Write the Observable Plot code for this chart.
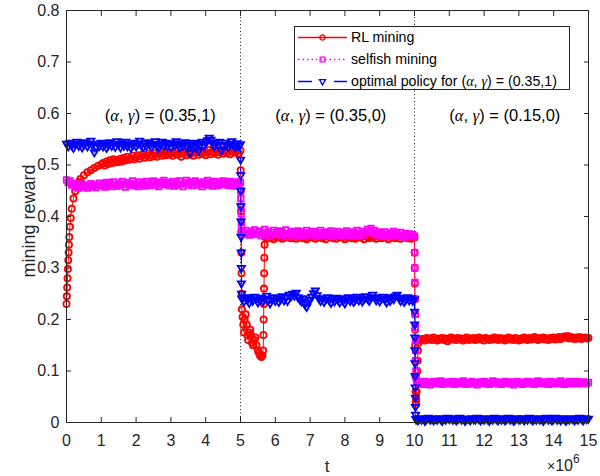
<!DOCTYPE html>
<html><head><meta charset="utf-8">
<script src="https://cdn.jsdelivr.net/npm/d3@7"></script>
<script src="https://cdn.jsdelivr.net/npm/@observablehq/plot@0.6"></script>
<style>body{margin:0;background:#fff}</style>
</head><body><div id="chart"></div>
<script>
// ---------- data (t in units of 10^6) ----------
const xTicks = [0,1,2,3,4,5,6,7,8,9,10,11,12,13,14,15];
const yTicks = [0,0.1,0.2,0.3,0.4,0.5,0.6,0.7,0.8];
const phaseBreaks = [5, 10];
const annotX = [1.1, 6.0, 11.0];
const annotY = [0.596, 0.596, 0.596];
const annotLabels = ["(α, γ) = (0.35,1)", "(α, γ) = (0.35,0)", "(α, γ) = (0.15,0)"];
const seriesNames = ["RL mining", "selfish mining", "optimal policy for (α, γ) = (0.35,1)"];

// RL mining
const redRiseT = [0,0.01,0.02,0.03,0.04,0.05,0.06,0.07,0.08,0.1,0.12,0.15,0.2,0.25,0.3,0.35,0.4,0.5,0.6,0.7,0.8,0.9,1.0];
const redRiseV = [0.23,0.245,0.262,0.28,0.298,0.315,0.33,0.345,0.36,0.38,0.397,0.415,0.435,0.449,0.46,0.467,0.473,0.48,0.486,0.49,0.494,0.498,0.501];
const redA = [ // t = 1.05 .. 5.0, step 0.05
0.504,0.499,0.507,0.502,0.509,0.504,0.511,0.505,0.509,0.506,
0.512,0.507,0.514,0.509,0.516,0.51,0.513,0.518,0.511,0.515,
0.519,0.512,0.517,0.521,0.514,0.518,0.522,0.515,0.52,0.517,
0.523,0.516,0.521,0.525,0.518,0.522,0.519,0.526,0.52,0.524,
0.518,0.523,0.527,0.52,0.524,0.516,0.522,0.526,0.519,0.525,
0.521,0.527,0.518,0.524,0.528,0.52,0.525,0.522,0.527,0.519,
0.524,0.529,0.521,0.526,0.523,0.528,0.52,0.525,0.529,0.522,
0.527,0.523,0.529,0.521,0.526,0.53,0.524,0.527,0.522,0.528];
const redDropT = [5.005,5.01,5.015,5.02,5.025,5.03,5.035,5.04,5.06,5.08,5.1,5.12,5.15,5.18,5.2,5.22,5.25,5.28,5.3,5.33,5.36,5.4,5.43,5.46,5.5,5.53,5.56,5.6,5.63,5.65,5.66,5.665,5.67,5.675,5.68,5.685,5.69,5.7];
const redDropV = [0.49,0.45,0.41,0.37,0.33,0.29,0.25,0.22,0.205,0.19,0.175,0.2,0.21,0.19,0.17,0.16,0.175,0.18,0.17,0.155,0.15,0.16,0.165,0.15,0.14,0.135,0.13,0.127,0.13,0.14,0.17,0.2,0.23,0.26,0.29,0.32,0.345,0.36];
const redB = [ // t = 5.75 .. 10.0, step 0.05
0.361,0.358,0.363,0.36,0.356,0.362,0.359,0.364,0.36,0.357,
0.362,0.359,0.361,0.365,0.358,0.36,0.363,0.357,0.361,0.359,
0.363,0.358,0.361,0.356,0.36,0.364,0.359,0.362,0.357,0.361,
0.359,0.363,0.358,0.361,0.356,0.362,0.36,0.364,0.358,0.361,
0.357,0.362,0.359,0.363,0.36,0.356,0.361,0.359,0.363,0.358,
0.362,0.357,0.36,0.364,0.359,0.361,0.356,0.362,0.36,0.358,
0.363,0.359,0.361,0.357,0.362,0.36,0.358,0.363,0.359,0.361,
0.356,0.361,0.359,0.363,0.358,0.36,0.362,0.357,0.361,0.359,
0.362,0.358,0.36,0.357,0.361,0.359];
const redDrop2T = [10.003,10.006,10.009,10.012,10.015,10.018,10.021,10.024,10.027,10.03,10.035,10.04,10.05,10.06,10.07,10.08,10.09,10.1,10.12,10.15,10.2];
const redDrop2V = [0.33,0.3,0.27,0.24,0.21,0.18,0.15,0.12,0.09,0.06,0.04,0.035,0.045,0.06,0.08,0.1,0.12,0.14,0.155,0.16,0.162];
const redC = [ // t = 10.25 .. 15.0, step 0.05
0.162,0.159,0.164,0.161,0.163,0.16,0.165,0.162,0.159,0.163,
0.161,0.164,0.16,0.163,0.158,0.162,0.165,0.161,0.163,0.16,
0.164,0.161,0.163,0.159,0.162,0.165,0.16,0.163,0.161,0.164,
0.16,0.162,0.165,0.161,0.163,0.159,0.164,0.162,0.16,0.163,
0.161,0.165,0.162,0.16,0.164,0.161,0.163,0.159,0.162,0.165,
0.161,0.163,0.16,0.164,0.162,0.159,0.163,0.161,0.165,0.162,
0.16,0.164,0.161,0.163,0.166,0.162,0.16,0.164,0.162,0.165,
0.161,0.163,0.16,0.164,0.162,0.165,0.161,0.163,0.166,0.162,
0.164,0.167,0.165,0.168,0.163,0.166,0.164,0.162,0.165,0.163,
0.166,0.162,0.164,0.165,0.163,0.164];

// selfish mining
const magA = [ // t = 0 .. 5.0, step 0.05
0.471,0.466,0.469,0.461,0.464,0.457,0.462,0.455,0.459,0.463,
0.457,0.461,0.455,0.46,0.464,0.458,0.462,0.456,0.461,0.465,
0.459,0.463,0.457,0.466,0.461,0.464,0.458,0.467,0.462,0.459,
0.465,0.46,0.468,0.463,0.457,0.466,0.461,0.464,0.469,0.46,
0.463,0.458,0.467,0.462,0.465,0.459,0.468,0.463,0.46,0.466,
0.469,0.461,0.465,0.458,0.467,0.463,0.47,0.462,0.466,0.46,
0.464,0.468,0.459,0.466,0.461,0.469,0.463,0.458,0.465,0.47,
0.462,0.467,0.46,0.465,0.469,0.461,0.466,0.463,0.458,0.467,
0.463,0.47,0.461,0.466,0.459,0.468,0.464,0.46,0.467,0.462,
0.469,0.463,0.466,0.46,0.468,0.462,0.465,0.459,0.467,0.463,
0.466];
const magDropT = [5.005,5.01,5.015,5.02,5.025,5.03,5.04];
const magDropV = [0.45,0.435,0.42,0.405,0.39,0.378,0.37];
const magB = [ // t = 5.05 .. 10.0, step 0.05
0.37,0.366,0.373,0.368,0.364,0.371,0.367,0.374,0.365,0.369,
0.372,0.363,0.368,0.375,0.366,0.37,0.362,0.369,0.373,0.365,
0.368,0.372,0.364,0.37,0.366,0.374,0.361,0.367,0.371,0.364,
0.369,0.363,0.372,0.366,0.37,0.362,0.368,0.373,0.365,0.369,
0.364,0.371,0.367,0.362,0.369,0.373,0.365,0.368,0.363,0.37,
0.366,0.372,0.361,0.368,0.364,0.371,0.366,0.362,0.369,0.365,
0.372,0.364,0.368,0.362,0.37,0.366,0.373,0.363,0.367,0.371,
0.364,0.369,0.375,0.37,0.377,0.368,0.373,0.365,0.37,0.363,
0.368,0.362,0.37,0.365,0.361,0.368,0.364,0.371,0.363,0.367,
0.362,0.369,0.364,0.36,0.367,0.363,0.366,0.361,0.365,0.362];
const magDrop2T = [10.004,10.008,10.012,10.016,10.02,10.024,10.028,10.032,10.036,10.04,10.05,10.07];
const magDrop2V = [0.33,0.3,0.272,0.24,0.21,0.185,0.16,0.14,0.12,0.1,0.085,0.079];
const magC = [ // t = 10.1 .. 15.0, step 0.05
0.079,0.075,0.078,0.074,0.08,0.076,0.078,0.073,0.077,0.08,
0.075,0.078,0.076,0.081,0.074,0.077,0.079,0.075,0.078,0.076,
0.08,0.074,0.077,0.079,0.075,0.078,0.081,0.076,0.074,0.078,
0.076,0.08,0.075,0.078,0.073,0.077,0.079,0.076,0.08,0.075,
0.078,0.074,0.077,0.081,0.076,0.079,0.075,0.078,0.074,0.077,
0.08,0.076,0.078,0.075,0.079,0.073,0.077,0.08,0.076,0.078,
0.074,0.078,0.076,0.08,0.075,0.077,0.079,0.074,0.078,0.081,
0.076,0.078,0.075,0.079,0.077,0.074,0.08,0.076,0.078,0.075,
0.079,0.076,0.081,0.077,0.074,0.078,0.076,0.08,0.075,0.078,
0.077,0.08,0.075,0.078,0.076,0.079,0.077,0.075,0.078];

// optimal policy
const blueA = [ // t = 0 .. 5.0, step 0.05
0.541,0.536,0.543,0.538,0.533,0.54,0.545,0.537,0.542,0.534,
0.539,0.544,0.536,0.541,0.547,0.538,0.524,0.535,0.541,0.537,
0.543,0.536,0.54,0.533,0.538,0.544,0.537,0.541,0.535,0.546,
0.539,0.534,0.542,0.537,0.545,0.536,0.54,0.533,0.538,0.543,
0.536,0.541,0.547,0.538,0.534,0.542,0.537,0.544,0.539,0.535,
0.541,0.546,0.537,0.533,0.54,0.545,0.538,0.543,0.536,0.541,
0.535,0.542,0.538,0.546,0.539,0.534,0.541,0.537,0.544,0.536,
0.54,0.523,0.538,0.543,0.535,0.541,0.527,0.539,0.545,0.537,
0.542,0.548,0.553,0.549,0.541,0.536,0.543,0.538,0.545,0.528,
0.537,0.543,0.539,0.535,0.541,0.546,0.538,0.534,0.542,0.537,
0.54];
const blueDropT = [5.003,5.006,5.009,5.012,5.015,5.018,5.021,5.024,5.027,5.03,5.04];
const blueDropV = [0.51,0.48,0.45,0.42,0.39,0.36,0.33,0.3,0.27,0.25,0.24];
const blueB = [ // t = 5.05 .. 10.0, step 0.05
0.24,0.235,0.243,0.238,0.232,0.241,0.236,0.244,0.239,0.233,
0.238,0.242,0.235,0.24,0.246,0.237,0.231,0.239,0.243,0.236,
0.241,0.234,0.239,0.245,0.237,0.242,0.236,0.248,0.244,0.25,
0.246,0.252,0.243,0.239,0.235,0.241,0.229,0.224,0.233,0.238,
0.244,0.251,0.256,0.247,0.241,0.236,0.24,0.234,0.239,0.243,
0.237,0.232,0.24,0.235,0.242,0.238,0.233,0.241,0.236,0.231,
0.239,0.243,0.236,0.24,0.234,0.238,0.244,0.237,0.241,0.235,
0.239,0.245,0.24,0.236,0.242,0.248,0.243,0.237,0.241,0.235,
0.24,0.244,0.238,0.233,0.241,0.236,0.243,0.239,0.245,0.248,
0.242,0.236,0.24,0.234,0.238,0.243,0.237,0.241,0.236,0.239];
const blueDrop2T = [10.003,10.006,10.009,10.012,10.015,10.018,10.021,10.024,10.027,10.03,10.04];
const blueDrop2V = [0.215,0.19,0.165,0.14,0.115,0.09,0.068,0.048,0.03,0.015,0.006];
const blueC = [ // t = 10.05 .. 15.0, step 0.05
0.006,0.004,0.008,0.005,0.007,0.003,0.006,0.009,0.005,0.007,
0.004,0.007,0.005,0.008,0.006,0.003,0.007,0.005,0.009,0.006,
0.008,0.005,0.007,0.004,0.006,0.009,0.005,0.007,0.003,0.006,
0.007,0.004,0.008,0.006,0.005,0.009,0.006,0.004,0.007,0.005,
0.008,0.006,0.003,0.007,0.005,0.009,0.006,0.004,0.008,0.005,
0.007,0.004,0.006,0.009,0.005,0.007,0.003,0.006,0.008,0.005,
0.006,0.008,0.004,0.007,0.005,0.009,0.006,0.004,0.007,0.005,
0.008,0.005,0.007,0.003,0.006,0.009,0.005,0.007,0.004,0.006,
0.009,0.005,0.007,0.004,0.008,0.006,0.003,0.007,0.005,0.008,
0.006,0.004,0.007,0.005,0.009,0.006,0.004,0.008,0.006,0.007];

// ---------- assemble tables ----------
const seg = (start, step, vals) => vals.map((v, i) => ({t: +(start + i * step).toFixed(4), v}));
const pairs = (T, V) => T.map((t, i) => ({t, v: V[i]}));

const red = [...pairs(redRiseT, redRiseV), ...seg(1.05, 0.05, redA), ...pairs(redDropT, redDropV),
             ...seg(5.75, 0.05, redB), ...pairs(redDrop2T, redDrop2V), ...seg(10.25, 0.05, redC)];
const magenta = [...seg(0, 0.05, magA), ...pairs(magDropT, magDropV), ...seg(5.05, 0.05, magB),
                 ...pairs(magDrop2T, magDrop2V), ...seg(10.1, 0.05, magC)];
const blue = [...seg(0, 0.05, blueA), ...pairs(blueDropT, blueDropV), ...seg(5.05, 0.05, blueB),
              ...pairs(blueDrop2T, blueDrop2V), ...seg(10.05, 0.05, blueC)];

// ---------- styles ----------
const FONT = '"Liberation Sans", Arial, Helvetica, sans-serif';
const GREEK_FONT = '"Liberation Serif", "DejaVu Serif", serif';
const dark = "#262626";
const RED = "#ff0000", MAG = "#ff00ff", BLUE = "#0000ff";
const triDown = {draw(ctx, size) {
  const r = Math.sqrt(size / Math.PI), a = r * 1.15;
  ctx.moveTo(-a, -a * 0.6); ctx.lineTo(a, -a * 0.6); ctx.lineTo(0, a * 1.1); ctx.closePath();
}};
const MW = 1.8; // marker stroke width

const plot = Plot.plot({
  width: 600, height: 476,
  marginLeft: 66, marginRight: 12, marginTop: 10, marginBottom: 54,
  style: {fontFamily: FONT, fontSize: "16px", color: dark, background: "white", overflow: "visible"},
  x: {domain: [0, 15]},
  y: {domain: [0, 0.8]},
  marks: [
    Plot.ruleX(phaseBreaks, {stroke: dark, strokeDasharray: "1,2.5", strokeWidth: 1}),
    Plot.line(red, {x: "t", y: "v", stroke: RED, strokeWidth: 1}),
    Plot.dot(red, {x: "t", y: "v", stroke: RED, symbol: "circle", r: 3.1, strokeWidth: MW}),
    Plot.line(magenta, {x: "t", y: "v", stroke: MAG, strokeWidth: 1, strokeDasharray: "1,3"}),
    Plot.dot(magenta, {x: "t", y: "v", stroke: MAG, symbol: "square", r: 3.1, strokeWidth: MW}),
    Plot.line(blue, {x: "t", y: "v", stroke: BLUE, strokeWidth: 1, strokeDasharray: "6,4"}),
    Plot.dot(blue, {x: "t", y: "v", stroke: BLUE, symbol: triDown, r: 3.1, strokeWidth: MW}),
    Plot.frame({stroke: dark, strokeWidth: 1}),
    Plot.axisX({anchor: "bottom", ticks: xTicks, tickSize: -5, tickPadding: 17, tickFormat: d => `${d}`, label: null, color: dark, fontSize: 16}),
    Plot.axisX({anchor: "top", ticks: xTicks, tickSize: -5, tickFormat: () => "", label: null, color: dark}),
    Plot.axisY({anchor: "left", ticks: yTicks, tickSize: -5, tickPadding: 12, tickFormat: d => d === 0 ? "0" : d.toFixed(1), label: null, color: dark, fontSize: 16}),
    Plot.axisY({anchor: "right", ticks: yTicks, tickSize: -5, tickFormat: () => "", label: null, color: dark}),
    Plot.text(annotLabels, {x: annotX, y: annotY, text: d => d, textAnchor: "start", fontSize: 16.5, fill: "#000"})
  ]
});
document.getElementById("chart").appendChild(plot);

const svg = d3.select(plot);

// italic greek letters
function richText(sel, s) {
  sel.text(null);
  s.split(/([αγ])/).filter(p => p.length).forEach(p => {
    const ts = sel.append("tspan").text(p);
    if (/[αγ]/.test(p)) ts.attr("font-style", "italic").attr("font-family", GREEK_FONT);
  });
}
svg.selectAll("text").each(function () {
  const s = this.textContent;
  if (/[αγ]/.test(s) && this.children.length === 0) richText(d3.select(this), s);
});

// axis titles
svg.append("text").text("t").attr("x", 327).attr("y", 472)
  .attr("text-anchor", "middle").attr("font-family", FONT).attr("font-size", 17).attr("fill", dark);
svg.append("text").text("mining reward")
  .attr("transform", "translate(29,221) rotate(-90)")
  .attr("text-anchor", "middle").attr("dy", "0.35em")
  .attr("font-family", FONT).attr("font-size", 18).attr("fill", dark);

// exponent label
const ex = svg.append("text").attr("x", 547).attr("y", 471).attr("fill", dark)
  .attr("text-anchor", "start").attr("font-family", FONT).attr("font-size", 16);
ex.append("tspan").text("×").attr("font-size", 14);
ex.append("tspan").text("10");
ex.append("tspan").text("6").attr("font-size", 12).attr("dy", -8);

// legend
const lg = svg.append("g").attr("font-family", FONT).attr("font-size", 14.2).attr("text-anchor", "start");
lg.append("rect").attr("x", 294.5).attr("y", 26.5).attr("width", 275).attr("height", 63)
  .attr("fill", "#ffffff").attr("stroke", dark).attr("stroke-width", 1);
const legendItems = [
  {color: RED, dash: "none", sym: d3.symbolCircle},
  {color: MAG, dash: "1.5,3", sym: d3.symbolSquare},
  {color: BLUE, dash: "14,22", sym: triDown}
];
const rowY = [37.5, 59.5, 81.5];
legendItems.forEach((it, i) => {
  const y = rowY[i];
  lg.append("line").attr("x1", 298).attr("x2", 347).attr("y1", y).attr("y2", y)
    .attr("stroke", it.color).style("stroke", it.color).attr("stroke-width", 1.5)
    .style("stroke-dasharray", it.dash);
  lg.append("path").attr("d", d3.symbol(it.sym, Math.PI * 7)())
    .attr("transform", `translate(322.5,${y})`).attr("fill", "none").attr("stroke", it.color).attr("stroke-width", 1.3);
  const tx = lg.append("text").attr("x", 351).attr("y", y).attr("dy", "0.35em").attr("fill", "#000");
  richText(tx, seriesNames[i]);
});
</script>
</body></html>
